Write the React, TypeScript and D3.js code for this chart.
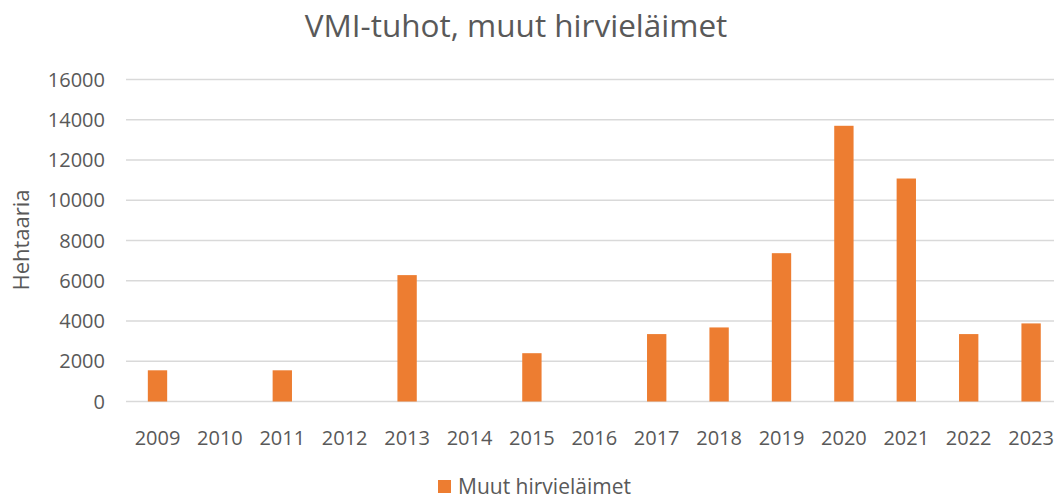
import React, { useEffect, useRef } from 'react';
import * as d3 from 'd3';

const years = ['2009', '2010', '2011', '2012', '2013', '2014', '2015', '2016', '2017', '2018', '2019', '2020', '2021', '2022', '2023'];
const values = [1550, 0, 1550, 0, 6280, 0, 2400, 0, 3350, 3680, 7370, 13700, 11080, 3350, 3880];
const yTicks = [0, 2000, 4000, 6000, 8000, 10000, 12000, 14000, 16000];
const title = 'VMI-tuhot, muut hirvieläimet';
const yLabel = 'Hehtaaria';
const seriesName = 'Muut hirvieläimet';

const App = () => {
  const svgRef = useRef<SVGSVGElement>(null);

  useEffect(() => {
    const width = 1054;
    const height = 499;
    const font = '"Open Sans", "Noto Sans", sans-serif';
    const textColor = '#595959';
    const barColor = '#ED7D31';

    const svg = d3.select(svgRef.current)
      .attr('width', width)
      .attr('height', height);
    svg.selectAll('*').remove();

    // plot runs past the right edge (the original is cropped)
    const x = d3.scaleBand()
      .domain(years)
      .range([126.3, 1062.3])
      .paddingInner(0.69)
      .paddingOuter(0.345);

    const y = d3.scaleLinear().domain([0, 16000]).range([401.5, 79.5]);

    // gridlines
    svg.append('g')
      .selectAll('line')
      .data(yTicks)
      .enter()
      .append('line')
      .attr('x1', 126)
      .attr('x2', width)
      .attr('y1', (d) => y(d))
      .attr('y2', (d) => y(d))
      .attr('stroke', '#d9d9d9')
      .attr('stroke-width', 1.5);

    // y tick labels
    svg.append('g')
      .selectAll('text')
      .data(yTicks)
      .enter()
      .append('text')
      .attr('x', 105)
      .attr('y', (d) => y(d))
      .attr('dy', '0.35em')
      .attr('text-anchor', 'end')
      .attr('font-family', font)
      .attr('font-size', 20)
      .attr('fill', textColor)
      .text((d) => d);

    // bars
    const data = years.map((yr, i) => ({ year: yr, value: values[i] })).filter((d) => d.value > 0);
    svg.append('g')
      .selectAll('rect')
      .data(data)
      .enter()
      .append('rect')
      .attr('x', (d) => x(d.year))
      .attr('width', x.bandwidth())
      .attr('y', (d) => y(d.value))
      .attr('height', (d) => y(0) - y(d.value))
      .attr('fill', barColor);

    // x labels
    svg.append('g')
      .selectAll('text')
      .data(years)
      .enter()
      .append('text')
      .attr('x', (d) => x(d) + x.bandwidth() / 2)
      .attr('y', 445)
      .attr('text-anchor', 'middle')
      .attr('font-family', font)
      .attr('font-size', 20)
      .attr('fill', textColor)
      .text((d) => d);

    // title
    svg.append('text')
      .attr('x', 516)
      .attr('y', 37)
      .attr('text-anchor', 'middle')
      .attr('font-family', font)
      .attr('font-size', 31.5)
      .attr('fill', textColor)
      .text(title);

    // y axis title
    svg.append('text')
      .attr('transform', `translate(29,240) rotate(-90)`)
      .attr('text-anchor', 'middle')
      .attr('font-family', font)
      .attr('font-size', 22)
      .attr('fill', textColor)
      .text(yLabel);

    // legend
    const legend = svg.append('g').attr('transform', 'translate(438,480)');
    legend.append('rect')
      .attr('width', 13)
      .attr('height', 13)
      .attr('fill', barColor);
    legend.append('text')
      .attr('x', 20)
      .attr('y', 14)
      .attr('font-family', font)
      .attr('font-size', 21)
      .attr('fill', textColor)
      .text(seriesName);
  }, []);

  return (
    <svg ref={svgRef} style={{ position: 'absolute', left: 0, top: 0, background: '#fff' }} />
  );
};

export default App;
